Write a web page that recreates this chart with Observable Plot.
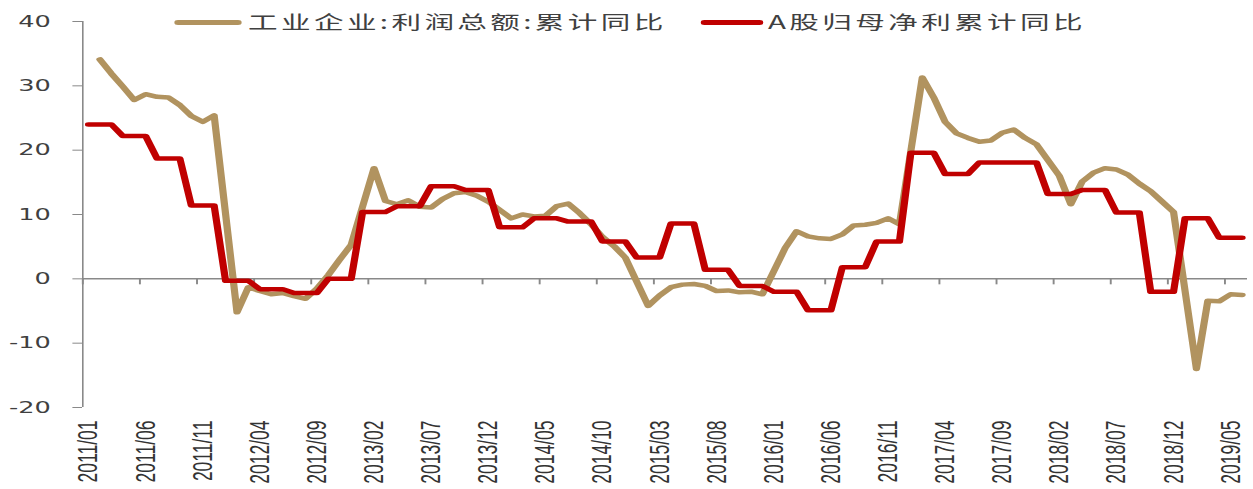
<!DOCTYPE html>
<html><head><meta charset="utf-8">
<script src="https://cdn.jsdelivr.net/npm/d3@7"></script>
<script src="https://cdn.jsdelivr.net/npm/@observablehq/plot@0.6"></script>
<style>
html,body{margin:0;padding:0;background:#fff;}
#wrap{position:relative;width:1253px;height:489px;overflow:hidden;background:#fff;}
#wrap svg{position:absolute;left:0;top:0;}
#legend{position:absolute;left:0;top:0;width:783px;height:40px;transform:scaleX(1.6);transform-origin:0 0;font-family:"Noto Sans CJK SC",sans-serif;font-size:18.5px;color:#404040;}
.sw{position:absolute;height:4.5px;border-radius:2.25px;}
.lt{position:absolute;white-space:nowrap;letter-spacing:2.1px;line-height:19px;}
#wrap svg [aria-label="y-axis tick label"] text{fill:#404040;}
#wrap svg [aria-label="x-axis tick label"] text{fill:#333333;}
</style></head><body>
<div id="wrap"><div id="legend"></div></div>
<script>
// ---- data ----
const seriesNames = ["工业企业:利润总额:累计同比", "A股归母净利累计同比"];
const seriesColors = ["#B1935F", "#C00000"];
const startYear = 2011;
const monthCount = 102; // 2011/01 .. 2019/06
const tickLabels = ["2011/01","2011/06","2011/11","2012/04","2012/09","2013/02","2013/07","2013/12","2014/05","2014/10","2015/03","2015/08","2016/01","2016/06","2016/11","2017/04","2017/09","2018/02","2018/07","2018/12","2019/05"];
const yTicks = [-20, -10, 0, 10, 20, 30, 40];
// 工业企业:利润总额:累计同比 (monthly, January not published)
const industrialProfit = [
  null, 34.1, 31.9, 29.9, 27.8, 28.7, 28.3, 28.2, 27.0, 25.3, 24.4, 25.4,
  null, -5.2, -1.3, -1.9, -2.4, -2.2, -2.7, -3.1, -1.5, 0.6, 3.0, 5.3,
  null, 17.2, 12.1, 11.6, 12.2, 11.2, 11.1, 12.4, 13.3, 13.5, 12.9, 12.0,
  null, 9.4, 10.0, 9.7, 9.8, 11.3, 11.7, 10.2, 8.5, 6.5, 5.1, 3.3,
  null, -4.2, -2.6, -1.3, -0.9, -0.8, -1.1, -1.9, -1.8, -2.1, -2.0, -2.4,
  null, 4.8, 7.4, 6.6, 6.3, 6.2, 6.9, 8.3, 8.4, 8.7, 9.4, 8.5,
  null, 31.3, 28.2, 24.4, 22.6, 21.9, 21.3, 21.5, 22.7, 23.2, 21.9, 20.9,
  null, 16.0, 11.6, 15.1, 16.5, 17.2, 17.0, 16.2, 14.8, 13.6, 12.0, 10.4,
  null, -14.0, -3.4, -3.5, -2.4, -2.5
];
// A股归母净利累计同比 (quarterly value, shown for each month of the quarter)
const aShareProfit = [
  24.0, 24.0, 24.0, 22.2, 22.2, 22.2, 18.7, 18.7, 18.7, 11.4, 11.4, 11.4,
  -0.3, -0.3, -0.3, -1.6, -1.6, -1.6, -2.2, -2.2, -2.2, 0.0, 0.0, 0.0,
  10.4, 10.4, 10.4, 11.3, 11.3, 11.3, 14.4, 14.4, 14.4, 13.8, 13.8, 13.8,
  8.0, 8.0, 8.0, 9.4, 9.4, 9.4, 8.9, 8.9, 8.9, 5.8, 5.8, 5.8,
  3.3, 3.3, 3.3, 8.6, 8.6, 8.6, 1.4, 1.4, 1.4, -1.1, -1.1, -1.1,
  -2.0, -2.0, -2.0, -4.9, -4.9, -4.9, 1.8, 1.8, 1.8, 5.8, 5.8, 5.8,
  19.6, 19.6, 19.6, 16.3, 16.3, 16.3, 18.1, 18.1, 18.1, 18.1, 18.1, 18.1,
  13.2, 13.2, 13.2, 13.8, 13.8, 13.8, 10.3, 10.3, 10.3, -2.0, -2.0, -2.0,
  9.4, 9.4, 9.4, 6.4, 6.4, 6.4
];

// ---- build table ----
const months = d3.range(monthCount).map(k => `${startYear + Math.floor(k / 12)}/${String(k % 12 + 1).padStart(2, "0")}`);
const rows = months.map((m, i) => ({month: m, x: i + 0.5, gold: industrialProfit[i], red: aShareProfit[i]}));
const goldRows = rows.filter(d => d.gold != null);
const tickPos = tickLabels.map(l => months.indexOf(l) + 0.5);
const tickBounds = tickLabels.map(l => months.indexOf(l));

const STRETCH = 1.6;
const W = 1253 / STRETCH, H = 489;
const axisGray = "#898989";

const svg = Plot.plot({
  width: W, height: H,
  marginLeft: 82 / STRETCH, marginRight: W - 1247 / STRETCH,
  marginTop: 21, marginBottom: 82,
  style: {background: "white", color: "#404040", fontFamily: "DejaVu Sans", fontSize: "16px", overflow: "visible"},
  x: {type: "linear", domain: [0, monthCount], axis: null},
  y: {domain: [-20, 40], axis: null},
  marks: [
    Plot.ruleY([0], {stroke: axisGray, strokeWidth: 1.5}),
    Plot.ruleX(tickBounds, {x: d => d, y1: 0, y2: 0, insetBottom: -6, stroke: axisGray, strokeWidth: 1.2}),
    Plot.line(goldRows, {x: "x", y: "gold", stroke: seriesColors[0], strokeWidth: 4.5, strokeLinejoin: "round", strokeLinecap: "round"}),
    Plot.line(rows, {x: "x", y: "red", stroke: seriesColors[1], strokeWidth: 4.5, strokeLinejoin: "round", strokeLinecap: "round"}),
    Plot.ruleX([0], {stroke: axisGray, strokeWidth: 1}),
    Plot.axisY({ticks: yTicks, tickSize: 6, tickPadding: 14, tickFormat: d => String(d), label: null,
      stroke: axisGray, fill: "#404040", fontSize: 16, fontFamily: "DejaVu Sans"}),
    Plot.axisX({ticks: tickPos, tickSize: 0, tickPadding: 13, tickRotate: -90, textAnchor: "end",
      tickFormat: d => months[Math.round(d - 0.5)], label: null,
      fill: "#333333", fontSize: 17.5, fontFamily: "Liberation Sans"})
  ]
});
svg.setAttribute("width", 1253);
svg.setAttribute("height", 489);
svg.setAttribute("viewBox", `0 0 ${W} ${H}`);
svg.setAttribute("preserveAspectRatio", "none");
svg.style.width = "1253px";
svg.style.height = "489px";
svg.style.maxWidth = "none";
const wrap = document.getElementById("wrap");
wrap.insertBefore(svg, wrap.firstChild);

// ---- legend (HTML, stretched like the chart) ----
const legend = document.getElementById("legend");
const legendItems = [
  {lineLeft: 109.4, lineWidth: 41.6, textLeft: 155.0},
  {lineLeft: 437.5, lineWidth: 39.5, textLeft: 480.0}
];
legendItems.forEach((it, k) => {
  const sw = document.createElement("div");
  sw.className = "sw";
  sw.style.left = it.lineLeft + "px";
  sw.style.width = it.lineWidth + "px";
  sw.style.top = (22.7 - 2.25) + "px";
  sw.style.background = seriesColors[k];
  legend.appendChild(sw);
  const t = document.createElement("div");
  t.className = "lt";
  t.style.left = it.textLeft + "px";
  t.style.top = "11.5px";
  t.textContent = seriesNames[k];
  legend.appendChild(t);
});
</script>
</body></html>
